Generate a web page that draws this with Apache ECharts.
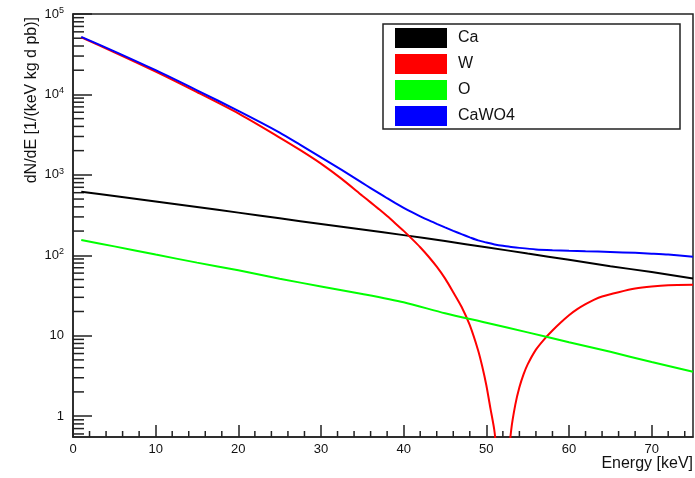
<!DOCTYPE html>
<html>
<head>
<meta charset="utf-8">
<script src="https://cdn.jsdelivr.net/npm/echarts@6/dist/echarts.min.js"></script>
<style>
html, body { margin: 0; padding: 0; background: #fff; }
#main { width: 695px; height: 478px; }
</style>
</head>
<body>
<div id="main"></div>
<script>
// energies [keV] and rates
var energy = [1, 5, 10, 15, 20, 25, 30, 35, 40, 45, 50, 55, 60, 65, 70, 75];
var caRate = [617, 545, 466, 398, 339, 288, 245, 209, 178, 150, 126, 105, 88, 73, 62, 51.5];
var oRate = [155, 129, 102, 81, 65, 51, 41, 33, 26, 19, 14.5, 11, 8.3, 6.3, 4.7, 3.56];

var energyW = [1, 5, 10, 15, 20, 25, 27.5, 30, 32.5, 35, 36, 37, 38, 39, 40, 41, 42, 43, 44, 45, 46, 47, 48, 49, 49.5, 50,
    50.5, 51, 51.5, 52, 52.5, 53, 53.5, 54, 54.5, 55, 56, 57, 58, 59, 60, 61, 62, 63, 64, 66, 68, 70, 72, 75];
var wRate = [51170, 33420, 19230, 10690, 5810, 2910, 2030, 1380, 891, 550, 455, 375, 307, 249, 201, 160, 126, 96.6, 72.1, 51.6, 34.7, 22.9, 13.5, 6.6, 4.17, 2.42,
    1.24, 0.63, 0.158, 0.01, 0.179, 0.662, 1.38, 2.28, 3.3, 4.4, 6.71, 9.02, 11.6, 14.6, 18.0, 21.4, 24.7, 27.9, 30.7, 34.7, 38.5, 40.9, 42.4, 42.9];

var energyTot = [1, 5, 10, 15, 20, 25, 27.5, 30, 32.5, 35, 36, 37, 38, 39, 40, 41, 42, 43, 44, 45, 46, 47, 48, 49, 50,
    51, 52, 53, 54, 56, 58, 60, 62, 65, 68, 70, 72, 75];
var totRate = [52000, 34360, 20000, 11250, 6250, 3360, 2360, 1650, 1153, 794, 685, 592, 512, 445, 389, 343, 305, 273, 246, 222, 201, 183, 167, 153, 144,
    136.5, 131, 127, 123.6, 118.3, 115.6, 113.8, 112.2, 109.9, 107.2, 104.7, 101.9, 96];

var names = ['Ca', 'W', 'O', 'CaWO4'];
var colors = ['#000000', '#ff0000', '#00ff00', '#0000ff'];

var yMin = 0.55, yMax = 100000;
var minorMult = [2, 3, 4, 5, 6, 7, 8, 9];
var sup = ['', '', '2', '3', '4', '5'];

function pairs(xs, ys) {
    return xs.map(function (x, i) { return [x, ys[i]]; });
}

// minor ticks (ROOT style: log spaced on y, every 2 keV on x)
var yMinor = [];
for (var k = -1; k <= 4; k++) {
    minorMult.forEach(function (m) {
        var v = m * Math.pow(10, k);
        if (v > yMin && v < yMax) yMinor.push([0, v]);
    });
}
var xMinor = [];
for (var e = 2; e < 75; e += 2) {
    if (e % 10 !== 0) xMinor.push([e, yMin]);
}

function lineSeries(i, xs, ys) {
    return {
        name: names[i],
        type: 'line',
        data: pairs(xs, ys),
        showSymbol: false,
        smooth: 0.25,
        clip: true,
        lineStyle: { color: colors[i], width: 2 },
        itemStyle: { color: colors[i] }
    };
}

var myChart = echarts.init(document.getElementById('main'));
var option = {
    animation: false,
    textStyle: { fontFamily: 'Liberation Sans' },
    grid: {
        left: 73, right: 2, top: 14, bottom: 41,
        show: true, borderColor: '#222', borderWidth: 1.5
    },
    legend: {
        data: names,
        orient: 'vertical',
        left: 395,
        top: 28,
        padding: 0,
        itemWidth: 52,
        itemHeight: 20,
        itemGap: 6,
        icon: 'rect',
        selectedMode: false,
        textStyle: { fontSize: 16, color: '#111', padding: [0, 0, 0, 6] }
    },
    xAxis: {
        type: 'value',
        min: 0,
        max: 75,
        interval: 10,
        axisLine: { lineStyle: { color: '#222', width: 1.5 } },
        axisTick: { inside: true, length: 12, lineStyle: { color: '#222', width: 1.5 } },
        axisLabel: { fontSize: 13, color: '#111', margin: 6, showMaxLabel: false },
        splitLine: { show: false }
    },
    yAxis: {
        type: 'log',
        logBase: 10,
        min: yMin,
        max: yMax,
        axisLine: { lineStyle: { color: '#222', width: 1.5 } },
        axisTick: { inside: true, length: 19, lineStyle: { color: '#222', width: 1.5 } },
        axisLabel: {
            fontSize: 13, color: '#111', margin: 9, showMinLabel: false,
            formatter: function (v) {
                var p = Math.round(Math.log(v) / Math.LN10);
                if (p === 0) return '1';
                if (p === 1) return '10';
                return '{a|10}{b|' + sup[p] + '}';
            },
            rich: {
                a: { fontSize: 13, color: '#111', lineHeight: 16 },
                b: { fontSize: 9, color: '#111', lineHeight: 10, verticalAlign: 'top' }
            }
        },
        splitLine: { show: false }
    },
    graphic: [
        {
            type: 'rect',
            shape: { x: 383, y: 24, width: 297, height: 105 },
            style: { fill: 'none', stroke: '#222', lineWidth: 1.5 }
        },
        {
            type: 'text',
            right: 2,
            top: 456,
            style: { text: 'Energy [keV]', font: '16px "Liberation Sans"', fill: '#111' }
        },
        {
            type: 'text',
            left: 24,
            top: 17,
            rotation: Math.PI / 2,
            style: { text: 'dN/dE [1/(keV kg d pb)]', font: '16px "Liberation Sans"', fill: '#111' }
        }
    ],
    series: [
        lineSeries(0, energy, caRate),
        lineSeries(1, energyW, wRate),
        lineSeries(2, energy, oRate),
        lineSeries(3, energyTot, totRate),
        {
            type: 'custom',
            silent: true,
            clip: false,
            data: yMinor,
            renderItem: function (params, api) {
                var p = api.coord([0, api.value(1)]);
                return {
                    type: 'line',
                    shape: { x1: p[0], y1: p[1], x2: p[0] + 11, y2: p[1] },
                    style: { stroke: '#222', lineWidth: 1.5 }
                };
            }
        },
        {
            type: 'custom',
            silent: true,
            clip: false,
            data: xMinor,
            renderItem: function (params, api) {
                var p = api.coord([api.value(0), api.value(1)]);
                return {
                    type: 'line',
                    shape: { x1: p[0], y1: p[1], x2: p[0], y2: p[1] - 6 },
                    style: { stroke: '#222', lineWidth: 1.5 }
                };
            }
        }
    ]
};
myChart.setOption(option);
</script>
</body>
</html>
